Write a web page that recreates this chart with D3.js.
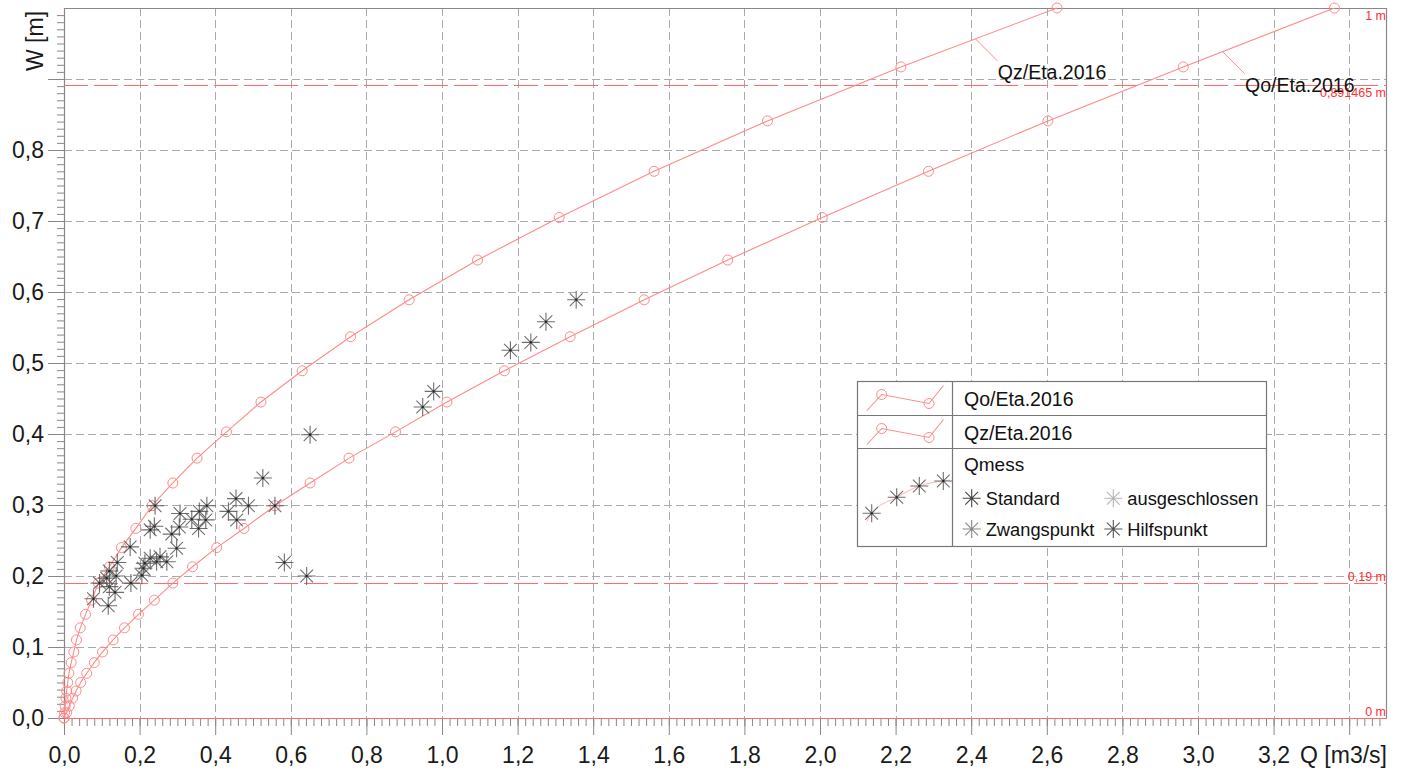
<!DOCTYPE html>
<html>
<head>
<meta charset="utf-8">
<script src="https://cdn.jsdelivr.net/npm/d3@7"></script>
<style>
  body { margin: 0; background: #fff; }
  svg { display: block; font-family: "Liberation Sans", Arial, sans-serif; }
</style>
</head>
<body>
<div id="chart"></div>
<script>
// Wasserstand W [m] (gemeinsame Stützstellen beider Kurven)
const levels = [0, 0.0075, 0.017, 0.028, 0.038, 0.05, 0.063, 0.078, 0.093, 0.11, 0.127, 0.146, 0.166, 0.19, 0.213, 0.24, 0.267, 0.299, 0.331, 0.366, 0.403, 0.445, 0.489, 0.537, 0.589, 0.645, 0.705, 0.77, 0.841, 0.917, 1.0];
// Abfluss Q [m3/s]
const qoValues = [0, 0.007, 0.014, 0.023, 0.032, 0.044, 0.06, 0.08, 0.102, 0.13, 0.16, 0.197, 0.239, 0.288, 0.34, 0.404, 0.476, 0.558, 0.651, 0.754, 0.877, 1.013, 1.165, 1.339, 1.535, 1.756, 2.006, 2.287, 2.603, 2.961, 3.361];
const qzValues = [0, 0.0015, 0.003, 0.005, 0.007, 0.01, 0.013, 0.019, 0.026, 0.033, 0.043, 0.057, 0.073, 0.091, 0.12, 0.152, 0.19, 0.233, 0.288, 0.352, 0.43, 0.521, 0.63, 0.758, 0.913, 1.094, 1.31, 1.561, 1.861, 2.214, 2.627];
const curveNames = ["Qo/Eta.2016", "Qz/Eta.2016"];
const labelAtQ = [3.065, 2.411]; // wo die Beschriftung an der Kurve ansetzt

// Messungen (Qmess)
const messQ = [1.355, 1.275, 1.235, 1.181, 0.978, 0.949, 0.651, 0.526, 0.558, 0.583, 0.642, 0.488, 0.455, 0.457, 0.435, 0.378, 0.375, 0.358, 0.338, 0.356, 0.307, 0.305, 0.285, 0.298, 0.272, 0.245, 0.254, 0.228, 0.214, 0.239, 0.241, 0.228, 0.210, 0.206, 0.175, 0.177, 0.141, 0.138, 0.120, 0.120, 0.135, 0.117, 0.094, 0.078, 0.113];
const messW = [0.589, 0.558, 0.529, 0.518, 0.460, 0.438, 0.399, 0.338, 0.299, 0.219, 0.200, 0.299, 0.309, 0.279, 0.291, 0.299, 0.279, 0.291, 0.280, 0.267, 0.288, 0.269, 0.259, 0.239, 0.220, 0.220, 0.227, 0.225, 0.218, 0.270, 0.299, 0.265, 0.211, 0.201, 0.241, 0.190, 0.219, 0.200, 0.207, 0.185, 0.177, 0.158, 0.190, 0.168, 0.197];

// Grenzlinien
const refLevels = [1, 0.891465, 0.19, 0];
const refLabels = ["1 m", "0,891465 m", "0,19 m", "0 m"];

// Legende Qmess-Typen
const typeNames = ["Standard", "ausgeschlossen", "Zwangspunkt", "Hilfspunkt"];
const typeColors = ["#444", "#b5b5b5", "#888", "#555"];

const xMajor = d3.range(0, 3.41, 0.2);
const yMajor = d3.range(0, 0.91, 0.1);

const width = 1403;
const height = 772;
const pLeft = 64, pRight = 1387, pTop = 8, pBottom = 718;
const red = "#ff6b6b";
const curveColor = "#ff8a8a";

const svg = d3.select("#chart").append("svg")
  .attr("width", width)
  .attr("height", height);

svg.append("rect").attr("width", width).attr("height", height).attr("fill", "#fff");

const x = d3.scaleLinear().domain([0, 3.5]).range([pLeft, pRight]);
const y = d3.scaleLinear().domain([0, 1]).range([pBottom, pTop]);

const de = d3.formatLocale({ decimal: ",", thousands: ".", grouping: [3], currency: ["", " €"] });
const fmt = de.format(".1f");

// Gitter
const grid = svg.append("g").attr("stroke", "#aaa").attr("stroke-dasharray", "8,4").attr("stroke-width", 1);
grid.selectAll("line.v").data(xMajor.filter((d) => d > 0))
  .join("line").attr("class", "v")
  .attr("x1", (d) => Math.round(x(d)) + 0.5).attr("x2", (d) => Math.round(x(d)) + 0.5)
  .attr("y1", pTop).attr("y2", pBottom);
grid.selectAll("line.h").data(yMajor.filter((d) => d > 0))
  .join("line").attr("class", "h")
  .attr("y1", (d) => Math.round(y(d)) + 0.5).attr("y2", (d) => Math.round(y(d)) + 0.5)
  .attr("x1", pLeft).attr("x2", pRight);

// Achsen: Nebenstriche
const xMinor = svg.append("g").attr("transform", `translate(0,${pBottom})`)
  .call(d3.axisBottom(x).tickValues(d3.range(0, 3.5, 0.02)).tickSize(8).tickFormat(""));
const yMinor = svg.append("g").attr("transform", `translate(${pLeft},0)`)
  .call(d3.axisLeft(y).tickValues(d3.range(0, 0.995, 0.01)).tickSize(7).tickFormat(""));

// Achsen: Hauptstriche + Beschriftung
const xAxis = svg.append("g").attr("transform", `translate(0,${pBottom})`)
  .call(d3.axisBottom(x).tickValues(xMajor).tickSize(17).tickFormat((d) => (d > 3.3 ? "" : fmt(d))));
xAxis.selectAll("text").attr("y", 45).attr("dy", null);

const yAxis = svg.append("g").attr("transform", `translate(${pLeft},0)`)
  .call(d3.axisLeft(y).tickValues(yMajor).tickSize(16).tickPadding(4).tickFormat((d) => (d > 0.85 ? "" : fmt(d))));

[xMinor, yMinor, xAxis, yAxis].forEach((g) => {
  g.select(".domain").remove();
  g.selectAll("line").attr("stroke", "#888");
  g.selectAll("text").attr("font-size", 23).attr("fill", "#1a1a1a")
    .attr("font-family", "'Liberation Sans', Arial, sans-serif");
});

// Rahmen
svg.append("path")
  .attr("d", `M${pLeft + 0.5},${pBottom} V${pTop + 0.5} H${pRight - 0.5} V${pBottom}`)
  .attr("fill", "none").attr("stroke", "#888").attr("stroke-width", 1.2);
svg.append("line").attr("x1", pLeft).attr("x2", pRight).attr("y1", pBottom + 0.5).attr("y2", pBottom + 0.5)
  .attr("stroke", "#888");

// Grenzlinien
refLevels.forEach((lv, i) => {
  if (lv > 0 && lv < 1) {
    svg.append("line")
      .attr("x1", pLeft).attr("x2", pRight)
      .attr("y1", Math.round(y(lv)) + 0.5).attr("y2", Math.round(y(lv)) + 0.5)
      .attr("stroke", red).attr("stroke-width", 1).attr("stroke-dasharray", "24,6");
  } else if (lv === 0) {
    svg.append("line")
      .attr("x1", pLeft).attr("x2", pRight)
      .attr("y1", y(lv) + 0.5).attr("y2", y(lv) + 0.5)
      .attr("stroke", red).attr("stroke-width", 1.2);
  }
  const below = lv > 0.5;
  svg.append("text")
    .attr("x", pRight - 1)
    .attr("y", below ? y(lv) + 12 : y(lv) - 2)
    .attr("text-anchor", "end")
    .attr("font-size", 12.5)
    .attr("fill", "#ff3030")
    .text(refLabels[i]);
});

// Abflusskurven
const line = d3.line().x((d) => x(d[0])).y((d) => y(d[1]));
const curves = [qoValues, qzValues].map((qs) => qs.map((q, i) => [q, levels[i]]));

curves.forEach((pts, k) => {
  svg.append("path").datum(pts)
    .attr("d", line)
    .attr("fill", "none").attr("stroke", curveColor).attr("stroke-width", 1.1);
  svg.append("g").selectAll("circle").data(pts).join("circle")
    .attr("cx", (d) => x(d[0])).attr("cy", (d) => y(d[1]))
    .attr("r", 5)
    .attr("fill", "none").attr("stroke", curveColor).attr("stroke-width", 1);

  // Beschriftung mit Hinweisstrich
  const q = labelAtQ[k];
  const j = pts.findIndex((p) => p[0] >= q);
  const t = (q - pts[j - 1][0]) / (pts[j][0] - pts[j - 1][0]);
  const w = pts[j - 1][1] + t * (pts[j][1] - pts[j - 1][1]);
  const ax = x(q), ay = y(w);
  svg.append("line")
    .attr("x1", ax).attr("y1", ay).attr("x2", ax + 22).attr("y2", ay + 22)
    .attr("stroke", curveColor).attr("stroke-width", 1);
  svg.append("text")
    .attr("x", ax + 22.5).attr("y", ay + 40.5)
    .attr("font-size", 19.5).attr("fill", "#111")
    .text(curveNames[k]);
});

// Sternsymbol
function star(g, cx, cy, r, color) {
  const d = r * 0.707;
  g.append("path")
    .attr("d", `M${cx},${cy - r}V${cy + r}M${cx - r},${cy}H${cx + r}M${cx - d},${cy - d}L${cx + d},${cy + d}M${cx - d},${cy + d}L${cx + d},${cy - d}`)
    .attr("stroke", color).attr("stroke-width", 1.1).attr("fill", "none").attr("stroke-opacity", 0.85);
  g.append("rect").attr("x", cx - 1).attr("y", cy - 1).attr("width", 2).attr("height", 2).attr("fill", "#222");
}

const marks = svg.append("g");
messQ.forEach((q, i) => star(marks, x(q), y(messW[i]), 9, "#555"));

// Legende
const lg = svg.append("g");
const lx0 = 857.5, lx1 = 1266.5, ly0 = 381.5, ly1 = 546.5, ldiv = 952.5;
const rowY = [381.5, 415.5, 448.5];
lg.append("rect").attr("x", lx0).attr("y", ly0).attr("width", lx1 - lx0).attr("height", ly1 - ly0)
  .attr("fill", "#fff").attr("stroke", "#777").attr("stroke-width", 1.2);
lg.append("line").attr("x1", ldiv).attr("x2", ldiv).attr("y1", ly0).attr("y2", ly1).attr("stroke", "#777").attr("stroke-width", 1.2);
rowY.slice(1).forEach((ry) => lg.append("line").attr("x1", lx0).attr("x2", lx1).attr("y1", ry).attr("y2", ry)
  .attr("stroke", "#777").attr("stroke-width", 1.2));

curveNames.forEach((name, i) => {
  const oy = rowY[i];
  const sample = [[867, oy + 29], [881.7, oy + 13], [929, oy + 22], [943.5, oy + 4]];
  lg.append("path").attr("d", d3.line()(sample)).attr("fill", "none").attr("stroke", curveColor).attr("stroke-width", 1.1);
  [sample[1], sample[2]].forEach((p) => lg.append("circle").attr("cx", p[0]).attr("cy", p[1]).attr("r", 5)
    .attr("fill", "none").attr("stroke", curveColor));
  lg.append("text").attr("x", 964).attr("y", oy + 24).attr("font-size", 19.5).attr("fill", "#111").text(name);
});

lg.append("text").attr("x", 964).attr("y", 471).attr("font-size", 19).attr("fill", "#111").text("Qmess");
const messSample = [[871.7, 513.3], [896.7, 497.3], [919.3, 486], [943.3, 481]];
lg.append("path").attr("d", d3.line().curve(d3.curveMonotoneX)([[866.7, 521.7], ...messSample, [950, 480]]))
  .attr("fill", "none").attr("stroke", "#ffb3b3").attr("stroke-width", 1);
messSample.forEach((p) => star(lg, p[0], p[1], 9, "#555"));

typeNames.forEach((name, i) => {
  const col = i % 2, row = Math.floor(i / 2);
  const sx = col === 0 ? 971.7 : 1113.3;
  const sy = row === 0 ? 498.3 : 529;
  const d = 9 * 0.707;
  lg.append("path")
    .attr("d", `M${sx},${sy - 9}V${sy + 9}M${sx - 9},${sy}H${sx + 9}M${sx - d},${sy - d}L${sx + d},${sy + d}M${sx - d},${sy + d}L${sx + d},${sy - d}`)
    .attr("stroke", typeColors[i]).attr("stroke-width", 1.1);
  lg.append("text").attr("x", sx + 14).attr("y", sy + 6.5).attr("font-size", 18.3).attr("fill", "#111").text(name);
});

// Achsentitel
svg.append("text")
  .attr("transform", "translate(43,41) rotate(-90)")
  .attr("text-anchor", "middle")
  .attr("font-size", 23).attr("fill", "#1a1a1a")
  .text("W [m]");
svg.append("text")
  .attr("x", pRight).attr("y", 763)
  .attr("text-anchor", "end")
  .attr("font-size", 23).attr("fill", "#1a1a1a")
  .text("Q [m3/s]");
</script>
</body>
</html>
